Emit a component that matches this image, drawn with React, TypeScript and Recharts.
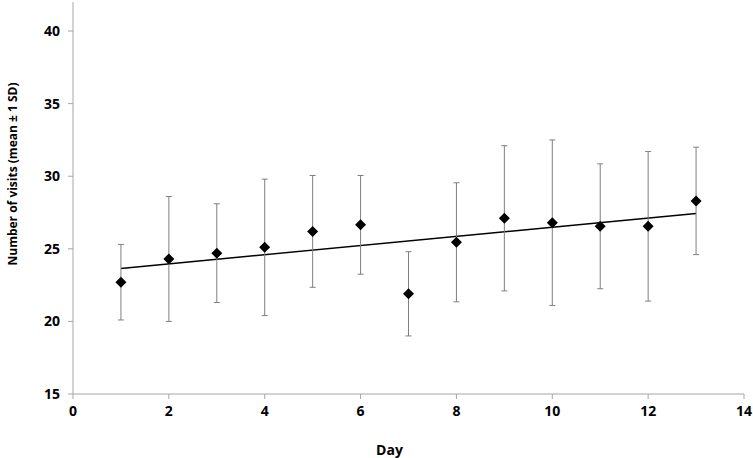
import { ScatterChart, Scatter, XAxis, YAxis, ErrorBar, ReferenceLine } from "recharts";

const days = [1, 2, 3, 4, 5, 6, 7, 8, 9, 10, 11, 12, 13];
const meanVisits = [22.7, 24.3, 24.7, 25.1, 26.2, 26.65, 21.9, 25.45, 27.1, 26.8, 26.55, 26.55, 28.3];
const sdVisits = [2.6, 4.3, 3.4, 4.7, 3.85, 3.4, 2.9, 4.1, 5.0, 5.7, 4.3, 5.15, 3.7];
const trendDays = [1, 13];
const trendValues = [23.65, 27.44];
const xTicks = [0, 2, 4, 6, 8, 10, 12, 14];
const yTicks = [15, 20, 25, 30, 35, 40];

const data = days.map((d, i) => ({ day: d, visits: meanVisits[i], sd: sdVisits[i] }));

const font = "'Open Sans', 'Liberation Sans', sans-serif";
const axisGray = "#a6a6a6";

const Diamond = (props: any) => {
  const { cx, cy } = props;
  const r = 5.5;
  return (
    <polygon
      points={`${cx},${cy - r} ${cx + r},${cy} ${cx},${cy + r} ${cx - r},${cy}`}
      fill="#000"
    />
  );
};

const YLabel = (props: any) => {
  const vb = props.viewBox;
  const x = vb.x + 12;
  const y = vb.y + vb.height / 2 - 24;
  return (
    <text
      x={x}
      y={y}
      transform={`rotate(-90, ${x}, ${y})`}
      textAnchor="middle"
      dominantBaseline="central"
      fontFamily={font}
      fontWeight="bold"
      fontSize={12}
      fill="#000"
    >
      Number of visits (mean ± 1 SD)
    </text>
  );
};

export default function App() {
  return (
    <div style={{ position: "absolute", left: 0, top: 0, background: "#fff" }}>
      <ScatterChart width={753} height={458} margin={{ top: 2, right: 9, bottom: 0, left: 0 }}>
        <XAxis
          type="number"
          dataKey="day"
          domain={[0, 14]}
          ticks={xTicks}
          interval={0}
          height={64}
          stroke={axisGray}
          tickSize={5}
          tickMargin={7}
          tick={{ fill: "#000", fontFamily: font, fontWeight: "bold", fontSize: 14 }}
          label={{
            value: "Day",
            position: "insideBottom",
            offset: 3,
            dx: -19,
            fill: "#000",
            fontFamily: font,
            fontWeight: "bold",
            fontSize: 14,
          }}
        />
        <YAxis
          type="number"
          dataKey="visits"
          domain={[15, 42]}
          ticks={yTicks}
          interval={0}
          width={73}
          stroke={axisGray}
          tickSize={5}
          tickMargin={8}
          tick={{ fill: "#000", fontFamily: font, fontWeight: "bold", fontSize: 14 }}
          label={<YLabel />}
        />
        <ReferenceLine
          segment={[
            { x: trendDays[0], y: trendValues[0] },
            { x: trendDays[1], y: trendValues[1] },
          ]}
          stroke="#000"
          strokeWidth={1.5}
          ifOverflow="visible"
        />
        <Scatter data={data} shape={<Diamond />} isAnimationActive={false}>
          <ErrorBar dataKey="sd" direction="y" width={3} stroke="#7f7f7f" strokeWidth={1} />
        </Scatter>
      </ScatterChart>
    </div>
  );
}
